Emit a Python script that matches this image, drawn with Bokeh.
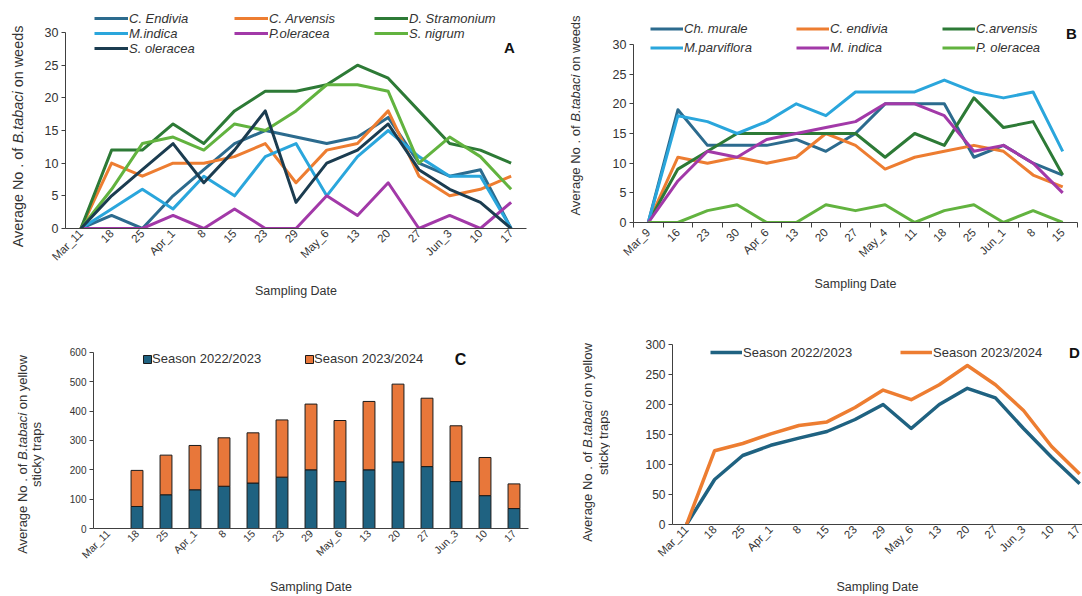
from math import pi
from bokeh.plotting import figure
from bokeh.layouts import column, row
from bokeh.models import Range1d, FixedTicker, Legend, LegendItem, Label, ColumnDataSource
from bokeh.embed import file_html
from bokeh.resources import INLINE

# ---------------- data ----------------
dates_a = ["Mar_11", "18", "25", "Apr_1", "8", "15", "23", "29", "May_6", "13", "20", "27", "Jun_3", "10", "17"]
a_c_endivia = [0, 2, 0, 5, 9, 13, 15, 14, 13, 14, 17, 10, 8, 9, 0]
a_c_arvensis = [0, 10, 8, 10, 10, 11, 13, 7, 12, 13, 18, 8, 5, 6, 8]
a_d_stramonium = [0, 12, 12, 16, 13, 18, 21, 21, 22, 25, 23, 18, 13, 12, 10]
a_m_indica = [0, 3, 6, 3, 8, 5, 11, 13, 5, 11, 15, 11, 8, 8, 0]
a_p_oleracea = [0, 0, 0, 2, 0, 3, 0, 0, 5, 2, 7, 0, 2, 0, 4]
a_s_nigrum = [0, 6, 13, 14, 12, 16, 15, 18, 22, 22, 21, 10, 14, 11, 6]
a_s_oleracea = [0, 5, 9, 13, 7, 12, 18, 4, 10, 12, 16, 9, 6, 4, 0]

dates_b = ["Mar_9", "16", "23", "30", "Apr_6", "13", "20", "27", "May_4", "11", "18", "25", "Jun_1", "8", "15"]
b_ch_murale = [0, 19, 13, 13, 13, 14, 12, 15, 20, 20, 20, 11, 13, 10, 8]
b_c_endivia = [0, 11, 10, 11, 10, 11, 15, 13, 9, 11, 12, 13, 12, 8, 6]
b_c_arvensis = [0, 9, 12, 15, 15, 15, 15, 15, 11, 15, 13, 21, 16, 17, 8]
b_m_parviflora = [0, 18, 17, 15, 17, 20, 18, 22, 22, 22, 24, 22, 21, 22, 12]
b_m_indica = [0, 7, 12, 11, 14, 15, 16, 17, 20, 20, 18, 12, 13, 10, 5]
b_p_oleracea = [0, 0, 2, 3, 0, 0, 3, 2, 3, 0, 2, 3, 0, 2, 0]

dates_cd = ["Mar_11", "18", "25", "Apr_1", "8", "15", "23", "29", "May_6", "13", "20", "27", "Jun_3", "10", "17"]
season_2022 = [0, 75, 115, 132, 144, 155, 175, 200, 160, 200, 227, 211, 160, 112, 68]
season_2023 = [0, 123, 135, 151, 165, 171, 195, 224, 208, 233, 265, 233, 190, 130, 84]

# ---------------- styling helpers ----------------
FONT = "Liberation Sans"
TXT = "#333333"
AX = "#404040"

BLUE = "#2c6b8e"
ORANGE = "#ed7d31"
DGREEN = "#2d7a36"
LBLUE = "#2aa6dc"
PURPLE = "#a239a8"
LGREEN = "#62b33f"
NAVY = "#1b3c50"
S22 = "#1f6281"

W = {' ': 278, '.': 278, '/': 278, 'A': 667, 'B': 667, 'N': 722, 'a': 556, 'b': 556, 'c': 500,
     'd': 556, 'e': 556, 'f': 278, 'g': 556, 'i': 222, 'k': 500, 'l': 222, 'n': 556, 'o': 556,
     'p': 556, 'r': 333, 's': 500, 't': 278, 'v': 500, 'w': 722, 'y': 500}


def tw(s, size):
    return sum(W.get(ch, 556) for ch in s) * size / 1000.0


def label_fig(width, height):
    p = figure(width=width, height=height, output_backend="svg", toolbar_location=None,
               x_axis_type=None, y_axis_type=None, x_range=Range1d(0, 1), y_range=Range1d(0, 1),
               min_border_left=0, min_border_right=0, min_border_top=0, min_border_bottom=0)
    p.frame_align = False
    p.title.visible = False
    p.outline_line_color = None
    p.background_fill_color = "white"
    p.border_fill_color = "white"
    return p


def vlabel(p, parts, x, yc, size):
    total = sum(tw(t, size) for t, _ in parts) + tw(" ", size) * (len(parts) - 1)
    y = yc - total / 2.0
    for t, it in parts:
        p.add_layout(Label(x=x, y=y, x_units="screen", y_units="screen", text=t, angle=pi / 2,
                           text_align="left", text_baseline="middle", text_font=FONT,
                           text_font_style="italic" if it else "normal",
                           text_font_size=f"{size}px", text_color=TXT))
        y += tw(t, size) + tw(" ", size)


def make_fig(width, height, left, right, top, bottom, n, x_end, y_end, y_top, y_step,
             xfont, yfont, label_standoff, boundary_ticks=False):
    p = figure(width=width, height=height, output_backend="svg", toolbar_location=None,
               x_range=Range1d(-0.5, x_end), y_range=Range1d(0, y_end),
               min_border_left=left, min_border_right=right,
               min_border_top=top, min_border_bottom=bottom)
    p.frame_align = False
    p.title.visible = False
    p.outline_line_color = None
    p.xgrid.visible = False
    p.ygrid.visible = False
    p.background_fill_color = "white"
    p.border_fill_color = "white"
    # x axis
    if boundary_ticks:
        p.xaxis.ticker = FixedTicker(ticks=list(range(n)), minor_ticks=[i - 0.5 for i in range(n + 1)])
        p.xaxis.minor_tick_out = 5
        p.xaxis.minor_tick_in = 0
        p.xaxis.minor_tick_line_color = AX
    else:
        p.xaxis.ticker = FixedTicker(ticks=list(range(n)))
        p.xaxis.minor_tick_line_color = None
    p.xaxis.major_tick_out = 0
    p.xaxis.major_tick_in = 0
    p.xaxis.major_label_orientation = pi / 4
    p.xaxis.major_label_standoff = 3
    p.xaxis.major_label_text_font = FONT
    p.xaxis.major_label_text_font_size = xfont
    p.xaxis.major_label_text_color = TXT
    p.xaxis.axis_line_color = AX
    p.xaxis.axis_label = "Sampling Date"
    p.xaxis.axis_label_text_font = FONT
    p.xaxis.axis_label_text_font_style = "normal"
    p.xaxis.axis_label_text_font_size = "12.5px"
    p.xaxis.axis_label_text_color = TXT
    p.xaxis.axis_label_standoff = label_standoff
    # y axis
    p.yaxis.ticker = FixedTicker(ticks=list(range(0, y_top + 1, y_step)))
    p.yaxis.bounds = (0, y_top)
    p.yaxis.minor_tick_line_color = None
    p.yaxis.major_tick_out = 4
    p.yaxis.major_tick_in = 0
    p.yaxis.major_tick_line_color = AX
    p.yaxis.axis_line_color = AX
    p.yaxis.major_label_standoff = 3
    p.yaxis.major_label_text_font = FONT
    p.yaxis.major_label_text_font_size = yfont
    p.yaxis.major_label_text_color = TXT
    return p


def y_extent(y_top, frame_top, frame_bottom, y_top_px):
    # value at the top of the frame so that y_top lands at pixel y_top_px
    return y_top * (frame_bottom - frame_top) / (frame_bottom - y_top_px)


def corner_label(p, text, x, y, size):
    p.add_layout(Label(x=x, y=y, x_units="screen", y_units="screen", text=text,
                       text_align="center", text_baseline="middle", text_font=FONT,
                       text_font_style="bold", text_font_size=size, text_color="#111111"))


def make_legend(names, rends, vx, vy, gw, gh, lh, lw, ncols, standoff=1):
    items = [LegendItem(label=nm, renderers=[r]) for nm, r in zip(names, rends)]
    return Legend(items=items, location=(vx, vy), orientation="horizontal", ncols=ncols,
                  padding=0, margin=0, spacing=0, border_line_color=None,
                  background_fill_alpha=0, glyph_width=gw, glyph_height=gh,
                  label_height=lh, label_width=lw, label_standoff=standoff,
                  label_text_font=FONT, label_text_font_size="13px", label_text_color=TXT)


R1_H = 300
R2_H = 296
R2_Y0 = 300                    # page y where row 2 starts

# ---------------- Panel A ----------------
A_TOP, A_BOT = 4, 72
A_FB = R1_H - A_BOT
na = len(dates_a)
xa = list(range(na))
pa = make_fig(510, R1_H, 35, 14, A_TOP, A_BOT, na, na - 0.5,
              y_extent(30, A_TOP, A_FB, 32), 30, 5, "11.5px", "12.5px", 14)
pa.xaxis.major_label_overrides = {i: d for i, d in enumerate(dates_a)}
a_series = [("C. Endivia", a_c_endivia, BLUE), ("C. Arvensis", a_c_arvensis, ORANGE),
            ("D. Stramonium", a_d_stramonium, DGREEN), ("M.indica", a_m_indica, LBLUE),
            ("P.oleracea", a_p_oleracea, PURPLE), ("S. nigrum", a_s_nigrum, LGREEN),
            ("S. oleracea", a_s_oleracea, NAVY)]
ra = [pa.line(xa, ys, line_color=col, line_width=3, line_join="round") for _, ys, col in a_series]
lega = make_legend([s[0] for s in a_series], ra, 29, A_FB - 55.5, 34, 14, 14, 105, 3)
lega.label_text_font_style = "italic"
pa.add_layout(lega)
corner_label(pa, "A", 444, A_FB - 47, "15px")
la = label_fig(30, R1_H)
vlabel(la, [("Average No . of", False), ("B.tabaci", True), ("on weeds", False)], 17, R1_H - 136, 14.4)

# ---------------- Panel B ----------------
B_TOP, B_BOT = 4, 78
B_FB = R1_H - B_BOT
nb = len(dates_b)
xb = list(range(nb))
pb = make_fig(492, R1_H, 43, 5, B_TOP, B_BOT, nb, nb - 0.5,
              y_extent(30, B_TOP, B_FB, 44), 30, 5, "11.5px", "12.5px", 11, boundary_ticks=True)
pb.xaxis.major_label_overrides = {i: d for i, d in enumerate(dates_b)}
b_series = [("Ch. murale", b_ch_murale, BLUE), ("C. endivia", b_c_endivia, ORANGE),
            ("C.arvensis", b_c_arvensis, DGREEN), ("M.parviflora", b_m_parviflora, LBLUE),
            ("M. indica", b_m_indica, PURPLE), ("P. oleracea", b_p_oleracea, LGREEN)]
rb = [pb.line(xb, ys, line_color=col, line_width=3, line_join="round") for _, ys, col in b_series]
legb = make_legend([s[0] for s in b_series], rb, 17, B_FB - 56.5, 33, 19, 19, 112, 3)
legb.label_text_font_style = "italic"
pb.add_layout(legb)
corner_label(pb, "B", 438, B_FB - 33, "15px")
lb = label_fig(50, R1_H)
vlabel(lb, [("Average No . of", False), ("B.tabaci", True), ("on weeds", False)], 35, R1_H - 115, 13)

# ---------------- Panel C ----------------
C_TOP, C_BOT = 40, 67
C_FB = R2_H - C_BOT
nc = len(dates_cd)
xc = list(range(nc))
src = ColumnDataSource(dict(x=xc, s22=season_2022, s23=season_2023))
pc = make_fig(490, R2_H, 43, 12, C_TOP, C_BOT, nc, nc - 0.5,
              y_extent(600, C_TOP, C_FB, 352 - R2_Y0), 600, 100, "10.5px", "10px", 12)
pc.xaxis.major_label_overrides = {i: d for i, d in enumerate(dates_cd)}
rc = pc.vbar_stack(["s22", "s23"], x="x", width=0.41, source=src, fill_color=[S22, "#e8773a"],
                   line_color="#1a1a1a", line_width=1)
legc = make_legend(["Season 2022/2023", "Season 2023/2024"], rc, 49, C_FB - (367.25 - R2_Y0),
                   10, 10, 14, 152, 2, standoff=0)
pc.add_layout(legc)
corner_label(pc, "C", 367, C_FB - (360 - R2_Y0), "16px")
lc = label_fig(50, R2_H)
vlabel(lc, [("Average No . of", False), ("B.tabaci", True), ("on yellow", False)], 22, R2_H - (454 - R2_Y0), 13)
vlabel(lc, [("sticky traps", False)], 36, R2_H - (454 - R2_Y0), 13)

# ---------------- Panel D ----------------
D_TOP, D_BOT = 36, 72
D_FB = R2_H - D_BOT
pd_ = make_fig(472, R2_H, 62, 0, D_TOP, D_BOT, nc, 14.1,
               y_extent(300, D_TOP, D_FB, 344 - R2_Y0), 300, 50, "11.5px", "12px", 14)
pd_.xaxis.major_label_overrides = {i: d for i, d in enumerate(dates_cd)}
rd1 = pd_.line(xc, season_2022, line_color=S22, line_width=3.5, line_join="round")
rd2 = pd_.line(xc, season_2023, line_color=ORANGE, line_width=3.5, line_join="round")
legd = make_legend(["Season 2022/2023", "Season 2023/2024"], [rd1, rd2], 38, D_FB - (359.75 - R2_Y0),
                   32, 14, 14, 157, 2)
pd_.add_layout(legd)
corner_label(pd_, "D", 402, D_FB - (352 - R2_Y0), "15px")
ld = label_fig(70, R2_H)
vlabel(ld, [("Average No . of", False), ("B.tabaci", True), ("on yellow", False)], 47, R2_H - (442 - R2_Y0), 13)
vlabel(ld, [("sticky traps", False)], 63, R2_H - (442 - R2_Y0), 13)

layout = column(row(la, pa, lb, pb), row(lc, pc, ld, pd_))
open("out.html", "w").write(file_html(layout, INLINE))
